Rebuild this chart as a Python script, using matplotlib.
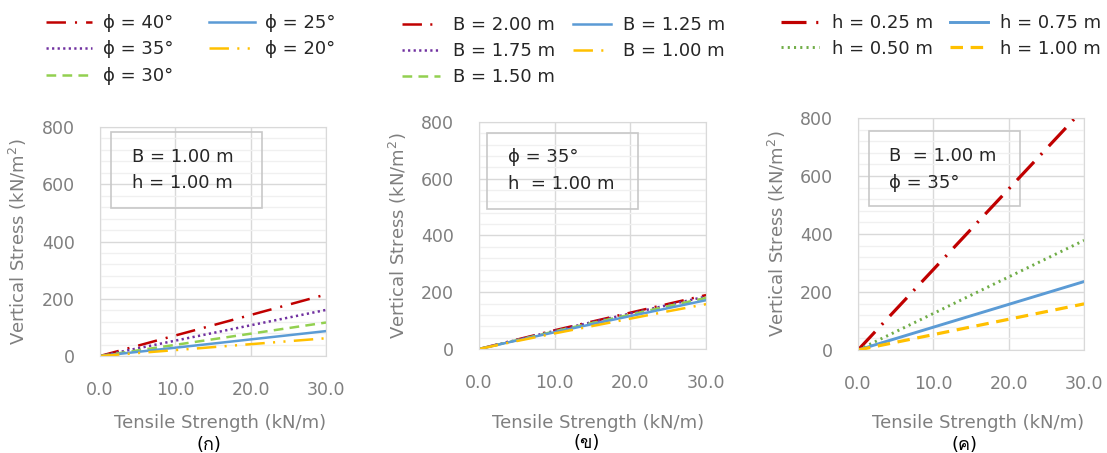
import matplotlib
matplotlib.use("Agg")
import matplotlib.pyplot as plt
from matplotlib.patches import Rectangle
from matplotlib import font_manager
from fontTools.ttLib import TTFont


# ---- data ----
x_a = [0, 30]
phi_labels = ["ϕ = 40°", "ϕ = 35°", "ϕ = 30°", "ϕ = 25°", "ϕ = 20°"]
phi40 = [0, 215]
phi35 = [0, 161]
phi30 = [0, 117]
phi25 = [0, 87]
phi20 = [0, 62]

x_b = [0, 5, 10, 15, 20, 25, 30]
B_labels = ["B = 2.00 m", "B = 1.75 m", "B = 1.50 m", "B = 1.25 m", "B = 1.00 m"]
B200 = [0, 33, 66, 97, 128, 159, 190]
B175 = [0, 32, 64, 95, 125, 155, 185]
B150 = [0, 31, 62, 92, 121, 151, 180]
B125 = [0, 30, 59, 88, 116, 144, 172]
B100 = [0, 28, 55, 81, 107, 133, 158]

x_c = [0, 30]
h_labels = ["h = 0.25 m", "h = 0.50 m", "h = 0.75 m", "h = 1.00 m"]
h025 = [0, 833]
h050 = [0, 378]
h075 = [0, 236]
h100 = [0, 159]

xticks = [0, 10, 20, 30]
yticks = [0, 200, 400, 600, 800]
captions = ["(ก)", "(ข)", "(ค)"]


def find_thai_font():
    # look for any installed font that has Thai glyphs
    for f in font_manager.fontManager.ttflist:
        try:
            tt = TTFont(f.fname, fontNumber=0, lazy=True)
            cmap = tt.getBestCmap()
            if cmap and 0x0E01 in cmap:
                return f.name
        except Exception:
            continue
    return None


fams = ["DejaVu Sans"]
thai = find_thai_font()
if thai:
    fams.append(thai)
plt.rcParams["font.family"] = fams
plt.rcParams["lines.scale_dashes"] = False

RED = "#C00000"
PURPLE = "#7030A0"
LGREEN = "#92D050"
GREEN = "#70AD47"
BLUE = "#5B9BD5"
YELLOW = "#FFC000"
GRAY = "#7f7f7f"

fig = plt.figure(figsize=(11.07, 4.53), dpi=100)
ax1 = fig.add_axes([0.0903, 0.2141, 0.2042, 0.5055])
ax2 = fig.add_axes([0.4327, 0.2296, 0.2051, 0.5011])
ax3 = fig.add_axes([0.7751, 0.2274, 0.2042, 0.5121])

lw = 1.8
# panel (a)
ax1.plot(x_a, phi40, color=RED, lw=lw, dashes=[14, 6.5, 1.5, 6.5], label=phi_labels[0])
ax1.plot(x_a, phi35, color=PURPLE, lw=lw, dashes=[1.6, 2.4], label=phi_labels[1])
ax1.plot(x_a, phi30, color=LGREEN, lw=lw, dashes=[7, 4.5], label=phi_labels[2])
ax1.plot(x_a, phi25, color=BLUE, lw=lw, label=phi_labels[3])
ax1.plot(x_a, phi20, color=YELLOW, lw=lw, dashes=[14, 6, 1.5, 6, 1.5, 6], label=phi_labels[4])

# panel (b)
ax2.plot(x_b, B200, color=RED, lw=lw, dashes=[14, 6, 1.5, 6], label=B_labels[0])
ax2.plot(x_b, B175, color=PURPLE, lw=lw, dashes=[1.6, 2.4], label=B_labels[1])
ax2.plot(x_b, B150, color=LGREEN, lw=lw, dashes=[7, 4.5], label=B_labels[2])
ax2.plot(x_b, B125, color=BLUE, lw=lw, label=B_labels[3])
ax2.plot(x_b, B100, color=YELLOW, lw=lw, dashes=[14, 6, 1.5, 6], label=B_labels[4])

# panel (c)
ax3.plot(x_c, h025, color=RED, lw=2.3, dashes=[18, 7, 1.5, 7], label=h_labels[0])
ax3.plot(x_c, h050, color=GREEN, lw=2.1, dashes=[1.5, 3], label=h_labels[1])
ax3.plot(x_c, h075, color=BLUE, lw=2.1, label=h_labels[2])
ax3.plot(x_c, h100, color=YELLOW, lw=2.3, dashes=[9, 5.5], label=h_labels[3])

for ax in (ax1, ax2, ax3):
    ax.set_xlim(0, 30)
    ax.set_ylim(0, 800)
    ax.set_xticks(xticks)
    ax.set_xticklabels(["%.1f" % v for v in xticks])
    ax.set_yticks(yticks)
    ax.set_yticks(range(0, 801, 40), minor=True)
    ax.tick_params(which="both", length=0, labelsize=12.5, labelcolor=GRAY, pad=18)
    ax.grid(which="major", color="#d9d9d9", lw=1.0)
    ax.grid(which="minor", axis="y", color="#f0f0f0", lw=1.0)
    ax.set_axisbelow(True)
    for s in ax.spines.values():
        s.set_color("#d9d9d9")
    ax.set_ylabel("Vertical Stress (kN/m$^2$)", fontsize=13, color=GRAY)
    ax.set_xlabel("Tensile Strength (kN/m)", fontsize=13, color=GRAY)
    ax.yaxis.label.set_va("center")
    ax.xaxis.label.set_va("center")

ax1.yaxis.set_label_coords(-0.363, 0.498)
ax2.yaxis.set_label_coords(-0.357, 0.498)
ax3.yaxis.set_label_coords(-0.358, 0.5)
ax1.xaxis.set_label_coords(0.531, -0.293)
ax2.xaxis.set_label_coords(0.524, -0.326)
ax3.xaxis.set_label_coords(0.531, -0.315)

cap_pos = [(0.482, -0.389), (0.476, -0.415), (0.473, -0.410)]
for ax, cap, (cx, cy) in zip((ax1, ax2, ax3), captions, cap_pos):
    ax.text(cx, cy, cap, transform=ax.transAxes, ha="center", va="center",
            fontsize=13, color="black", family=fams)

# info boxes
boxes = [
    (ax1, (0.049, 0.646, 0.668, 0.332), 0.142, (0.869, 0.755), ["B = 1.00 m", "h = 1.00 m"]),
    (ax2, (0.035, 0.617, 0.665, 0.335), 0.128, (0.846, 0.727), ["ϕ = 35°", "h  = 1.00 m"]),
    (ax3, (0.049, 0.621, 0.668, 0.323), 0.137, (0.836, 0.720), ["B  = 1.00 m", "ϕ = 35°"]),
]
for ax, (bx, by, bw, bh), tx, tys, lines in boxes:
    ax.add_patch(Rectangle((bx, by), bw, bh, transform=ax.transAxes,
                           facecolor="none", edgecolor="#c8c8c8", lw=1.2, zorder=1.5))
    for ty, t in zip(tys, lines):
        ax.text(tx, ty, t, transform=ax.transAxes, ha="left", va="center",
                fontsize=13, color="#262626")

# legends above each panel
W, H = 1107.0, 453.0
leg_specs = [
    (ax1, 46, 14, 2.55, 0.6, 1.95, 0.47),
    (ax2, 402, 16, 2.1, 0.7, 1.0, 0.45),
    (ax3, 781, 14, 2.1, 0.7, 0.95, 0.42),
]
for ax, lx, ly, hl, htp, cs, ls in leg_specs:
    ax.legend(loc="upper left", bbox_to_anchor=(lx / W, 1 - ly / H),
              bbox_transform=fig.transFigure, ncol=2, frameon=False,
              fontsize=13, borderpad=0, borderaxespad=0, handlelength=hl,
              handletextpad=htp, columnspacing=cs, labelspacing=ls,
              labelcolor="#262626")

fig.savefig("out.png", dpi=100)
